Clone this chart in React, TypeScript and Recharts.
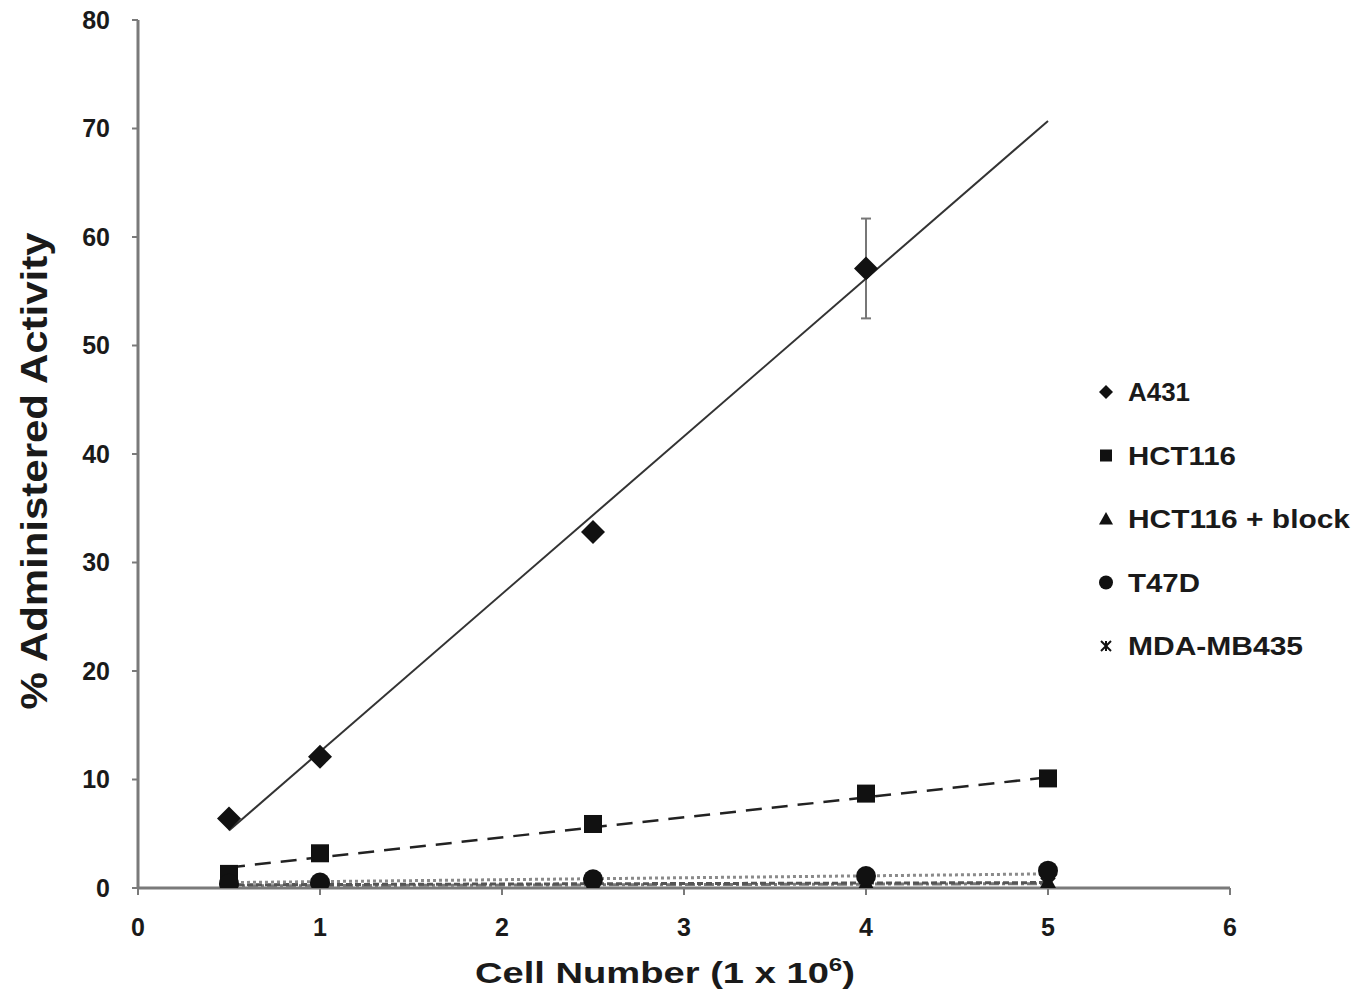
import React from 'react';
import { ComposedChart, Scatter, Line, XAxis, YAxis, ErrorBar, Label } from 'recharts';

// cell numbers (x 10^6)
const cellNumbers = [0.5, 1, 2.5, 4, 5];
const a431Cells = [0.5, 1, 2.5, 4];

// % administered activity
const a431Values = [6.4, 12.1, 32.8, 57.1];
const a431Errors = [0.3, 0.4, 0.5, 4.6];
const hct116Values = [1.3, 3.2, 5.9, 8.7, 10.1];
const hct116BlockValues = [0.2, 0.2, 0.3, 0.4, 0.5];
const t47dValues = [0.4, 0.5, 0.8, 1.1, 1.6];
const mdaValues = [0.1, 0.2, 0.2, 0.3, 0.3];

// trendline end points
const trendCells = [0.5, 5];
const a431Trend = [5.3, 70.7];
const hct116Trend = [1.9, 10.2];
const hct116BlockTrend = [0.3, 0.5];
const t47dTrend = [0.5, 1.3];
const mdaTrend = [0.2, 0.4];

const xTicks = [0, 1, 2, 3, 4, 5, 6];
const yTicks = [0, 10, 20, 30, 40, 50, 60, 70, 80];

const legendNames = ['A431', 'HCT116', 'HCT116 + block', 'T47D', 'MDA-MB435'];
const legendWidths = [62, 108, 222, 72, 175];

const FONT = 'Arial, "Liberation Sans", sans-serif';
const AXIS = '#7a7a7a';
const INK = '#111';

const toPoints = (xs: number[], ys: number[], errs?: number[]) =>
  xs.map((x, i) => ({ x, y: ys[i], err: errs ? errs[i] : 0 }));

// marker shapes
const diamond = (s: number) => (p: any) => (
  <polygon
    points={`${p.cx},${p.cy - s} ${p.cx + s},${p.cy} ${p.cx},${p.cy + s} ${p.cx - s},${p.cy}`}
    fill={INK}
  />
);
const square = (s: number) => (p: any) => (
  <rect x={p.cx - s} y={p.cy - s} width={s * 2} height={s * 2} fill={INK} />
);
const triangle = (s: number) => (p: any) => (
  <polygon
    points={`${p.cx},${p.cy - s} ${p.cx + s},${p.cy + s * 0.8} ${p.cx - s},${p.cy + s * 0.8}`}
    fill={INK}
  />
);
const circle = (s: number) => (p: any) => <circle cx={p.cx} cy={p.cy} r={s} fill={INK} />;
const asterisk = (s: number) => (p: any) => (
  <g stroke={INK} strokeWidth={2}>
    <line x1={p.cx - s} y1={p.cy - s} x2={p.cx + s} y2={p.cy + s} />
    <line x1={p.cx - s} y1={p.cy + s} x2={p.cx + s} y2={p.cy - s} />
    <line x1={p.cx} y1={p.cy - s} x2={p.cx} y2={p.cy + s} />
  </g>
);

const legendShapes = [diamond(7), square(6), triangle(7), circle(7), asterisk(5)];

const XTitle = () => (
  <text
    x={665}
    y={983}
    textAnchor="middle"
    fontFamily={FONT}
    fontSize={30}
    fontWeight="bold"
    fill="#1a1a1a"
    textLength={380}
    lengthAdjust="spacingAndGlyphs"
  >
    Cell Number (1 x 10<tspan dy={-12} fontSize={19}>6</tspan>
    <tspan dy={12}>)</tspan>
  </text>
);

const YTitle = () => (
  <text
    x={47}
    y={471}
    transform="rotate(-90, 47, 471)"
    textAnchor="middle"
    fontFamily={FONT}
    fontSize={36}
    fontWeight="bold"
    fill="#1a1a1a"
    textLength={477}
    lengthAdjust="spacingAndGlyphs"
  >
    % Administered Activity
  </text>
);

const tickStyle = { fontFamily: FONT, fontSize: 25, fontWeight: 'bold', fill: '#1a1a1a' };

export default function App() {
  return (
    <div style={{ position: 'absolute', left: 0, top: 0, width: 1371, height: 1002, background: '#fff' }}>
      <ComposedChart width={1371} height={1002} margin={{ top: 20, right: 141, bottom: 84, left: 58 }}>
        <XAxis
          type="number"
          dataKey="x"
          domain={[0, 6]}
          ticks={xTicks}
          allowDataOverflow
          stroke={AXIS}
          strokeWidth={3}
          tickSize={7}
          tickMargin={23}
          tick={tickStyle}
          tickLine={{ stroke: AXIS, strokeWidth: 2 }}
        >
          <Label content={() => <XTitle />} />
        </XAxis>
        <YAxis
          type="number"
          dataKey="y"
          domain={[0, 80]}
          ticks={yTicks}
          width={80}
          allowDataOverflow
          stroke={AXIS}
          strokeWidth={3}
          tickSize={6}
          tickMargin={22}
          tick={tickStyle}
          tickLine={{ stroke: AXIS, strokeWidth: 2 }}
        >
          <Label content={() => <YTitle />} />
        </YAxis>

        <Line data={toPoints(trendCells, mdaTrend)} dataKey="y" type="linear" stroke="#777" strokeWidth={3}
          strokeDasharray="10 3 3 3" dot={false} activeDot={false} isAnimationActive={false} />
        <Line data={toPoints(trendCells, hct116BlockTrend)} dataKey="y" type="linear" stroke="#555" strokeWidth={3}
          strokeDasharray="6 3" dot={false} activeDot={false} isAnimationActive={false} />
        <Line data={toPoints(trendCells, t47dTrend)} dataKey="y" type="linear" stroke="#8a8a8a" strokeWidth={3}
          strokeDasharray="3 3" dot={false} activeDot={false} isAnimationActive={false} />
        <Line data={toPoints(trendCells, hct116Trend)} dataKey="y" type="linear" stroke="#222" strokeWidth={2.5}
          strokeDasharray="16 10" dot={false} activeDot={false} isAnimationActive={false} />
        <Line data={toPoints(trendCells, a431Trend)} dataKey="y" type="linear" stroke="#333" strokeWidth={2}
          dot={false} activeDot={false} isAnimationActive={false} />

        <Scatter name="MDA-MB435" data={toPoints(cellNumbers, mdaValues)} shape={asterisk(7)} isAnimationActive={false} />
        <Scatter name="HCT116 + block" data={toPoints(cellNumbers, hct116BlockValues)} shape={triangle(9)} isAnimationActive={false} />
        <Scatter name="HCT116" data={toPoints(cellNumbers, hct116Values)} shape={square(9)} isAnimationActive={false} />
        <Scatter name="T47D" data={toPoints(cellNumbers, t47dValues)} shape={circle(10)} isAnimationActive={false} />
        <Scatter name="A431" data={toPoints(a431Cells, a431Values, a431Errors)} shape={diamond(12)} isAnimationActive={false}>
          <ErrorBar dataKey="err" direction="y" width={5} stroke="#777" strokeWidth={2} />
        </Scatter>
      </ComposedChart>

      <svg width={281} height={320} style={{ position: 'absolute', left: 1090, top: 360 }}>
        {legendNames.map((name, i) => {
          const cy = 32 + i * 63.5;
          const Shape = legendShapes[i];
          return (
            <g key={name}>
              <Shape cx={16} cy={cy} />
              <text
                x={38}
                y={cy + 9}
                fontFamily={FONT}
                fontSize={25}
                fontWeight="bold"
                fill="#1a1a1a"
                textLength={legendWidths[i]}
                lengthAdjust="spacingAndGlyphs"
              >
                {name}
              </text>
            </g>
          );
        })}
      </svg>
    </div>
  );
}
